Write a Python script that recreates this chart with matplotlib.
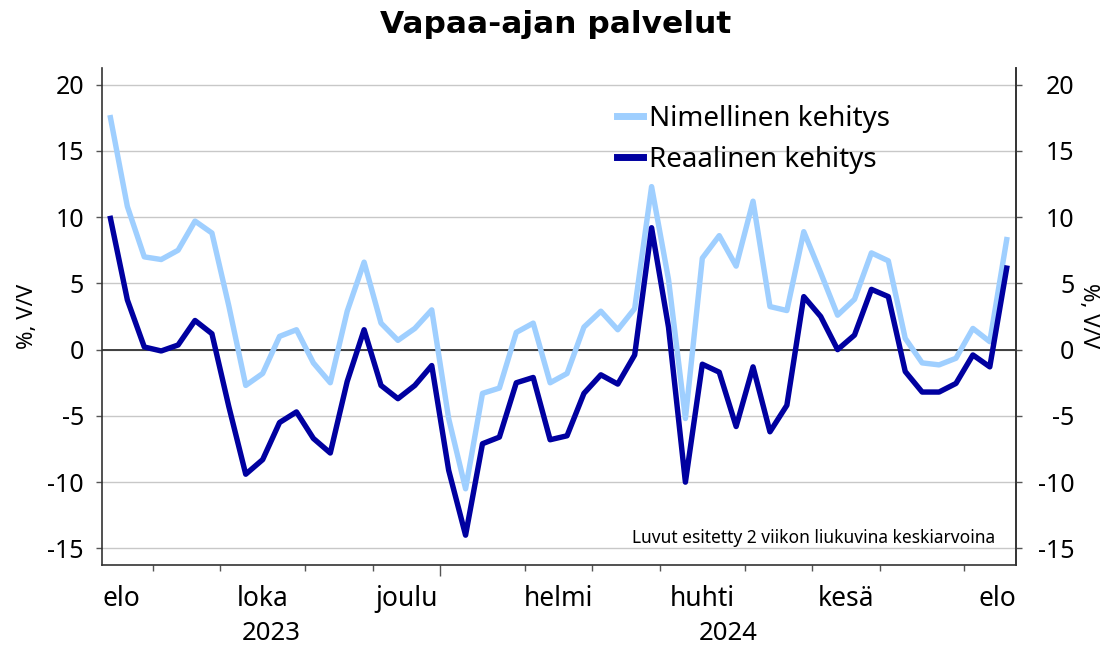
import numpy as np
import matplotlib
matplotlib.use("Agg")
import matplotlib.pyplot as plt
import matplotlib.transforms as mtransforms

plt.rcParams['font.family'] = ['Noto Sans', 'DejaVu Sans']
plt.rcParams['axes.unicode_minus'] = False

# weekly values (2 week moving average), Aug 2023 - Aug 2024
nimellinen = [17.5, 10.8, 7.0, 6.8, 7.5, 9.7, 8.8, 3.3, -2.7, -1.8,
              1.0, 1.5, -1.0, -2.5, 2.9, 6.6, 2.0, 0.7, 1.6, 3.0,
              -5.2, -10.5, -3.3, -2.9, 1.3, 2.0, -2.5, -1.8, 1.7, 2.9,
              1.5, 3.1, 12.3, 5.3, -5.2, 6.9, 8.6, 6.3, 11.2, 3.25,
              2.95, 8.9, 5.8, 2.6, 3.8, 7.3, 6.7, 0.85, -1.0, -1.15,
              -0.65, 1.6, 0.6, 8.3]
reaalinen = [9.9, 3.75, 0.2, -0.1, 0.35, 2.2, 1.2, -4.3, -9.4, -8.3,
             -5.5, -4.7, -6.7, -7.8, -2.4, 1.5, -2.7, -3.7, -2.7, -1.2,
             -9.1, -14.0, -7.1, -6.6, -2.5, -2.1, -6.8, -6.5, -3.3, -1.9,
             -2.6, -0.4, 9.2, 1.7, -10.0, -1.1, -1.7, -5.8, -1.3, -6.2,
             -4.2, 4.0, 2.5, 0.0, 1.1, 4.55, 4.0, -1.65, -3.2, -3.2,
             -2.55, -0.4, -1.3, 6.15]

# weeks falling in each month, elo 2023 ... elo 2024
months = ["elo", "syys", "loka", "marras", "joulu", "tammi", "helmi",
          "maalis", "huhti", "touko", "kesä", "heinä", "elo"]
weeks_per_month = [3, 4, 5, 4, 4, 5, 4, 4, 5, 4, 4, 5, 3]
years = ["2023", "2024"]
year_start_month = [0, 5]

light = '#9fcfff'
dark = '#0000a0'

fig = plt.figure(figsize=(11.07, 6.45), dpi=100)
W, H = 1107, 645
ax = fig.add_axes([102 / W, 80 / H, 914 / W, 497 / H])

x = np.arange(len(nimellinen))
ax.plot(x, nimellinen, color=light, lw=3.9, label='Nimellinen kehitys', zorder=3)
ax.plot(x, reaalinen, color=dark, lw=3.9, label='Reaalinen kehitys', zorder=4)

xmin, xmax = -0.5, len(x) - 0.45
ax.set_xlim(xmin, xmax)
ax.set_ylim(-16.25, 21.25)
ax.set_yticks(range(-15, 21, 5))
ax.grid(axis='y', color='#c8c8c8', lw=1)
ax.axhline(0, color='#333333', lw=1.3, zorder=2)

ax.spines['top'].set_visible(False)
for s in ['left', 'bottom', 'right']:
    ax.spines[s].set_color('#333333')
    ax.spines[s].set_linewidth(1.2)

ax.tick_params(axis='y', labelsize=18, length=4, width=1, color='#555555', pad=9)

# month boundaries as x ticks
bounds = np.cumsum(weeks_per_month)[:-1] - 0.5
ax.set_xticks(bounds)
ax.set_xticklabels([])
ax.tick_params(axis='x', length=4, width=1, color='#555555')
year_ticks = [bounds[m - 1] for m in year_start_month if m > 0]
for t, b in zip(ax.xaxis.get_major_ticks(), bounds):
    if b in year_ticks:
        t.tick1line.set_markersize(8)

trans = mtransforms.blended_transform_factory(ax.transData, ax.transAxes)
edges = np.concatenate([[xmin], bounds, [xmax]])
for i, m in enumerate(months):
    if i % 2:
        continue
    if i == 0:
        ax.text(edges[0], -0.0825, m, transform=trans, ha='left', va='baseline', fontsize=19)
    elif i == len(months) - 1:
        ax.text(edges[-1], -0.0825, m, transform=trans, ha='right', va='baseline', fontsize=19)
    else:
        ax.text((edges[i] + edges[i + 1]) / 2, -0.0825, m, transform=trans,
                ha='center', va='baseline', fontsize=19)
ystarts = [edges[m] for m in year_start_month] + [edges[-1]]
for j, yr in enumerate(years):
    ax.text((ystarts[j] + ystarts[j + 1]) / 2, -0.151, yr, transform=trans,
            ha='center', va='baseline', fontsize=18.5)

# right axis
ax2 = ax.twinx()
ax2.set_ylim(ax.get_ylim())
ax2.set_yticks(range(-15, 21, 5))
ax2.tick_params(axis='y', labelsize=18, length=4, width=1, color='#555555', pad=38)
for lab in ax2.get_yticklabels():
    lab.set_horizontalalignment('right')
for s in ['top', 'left', 'bottom']:
    ax2.spines[s].set_visible(False)
ax2.spines['right'].set_color('#333333')
ax2.spines['right'].set_linewidth(1.2)

fig.text(27 / W, 1 - 316 / H, '%, V/V', rotation=90, ha='center', va='center', fontsize=16)
fig.text(1089 / W, 1 - 316 / H, '%, V/V', rotation=270, ha='center', va='center', fontsize=16)

fig.text(0.502, 1 - 33 / H, 'Vapaa-ajan palvelut', ha='center', va='baseline',
         fontsize=22.5, fontweight='bold', family=['DejaVu Sans'])

leg = ax.legend(loc='upper left', bbox_to_anchor=(617 / W, 1 - 105 / H),
                bbox_transform=fig.transFigure, frameon=False, fontsize=20,
                handlelength=0.95, handletextpad=0.2, labelspacing=0.47,
                borderaxespad=0, borderpad=0)
for h in leg.get_lines():
    h.set_linewidth(5)

ax.text(995 / W, 1 - 543 / H, 'Luvut esitetty 2 viikon liukuvina keskiarvoina',
        transform=fig.transFigure, ha='right', va='baseline', fontsize=12.5)

fig.savefig('out.png', dpi=100)
